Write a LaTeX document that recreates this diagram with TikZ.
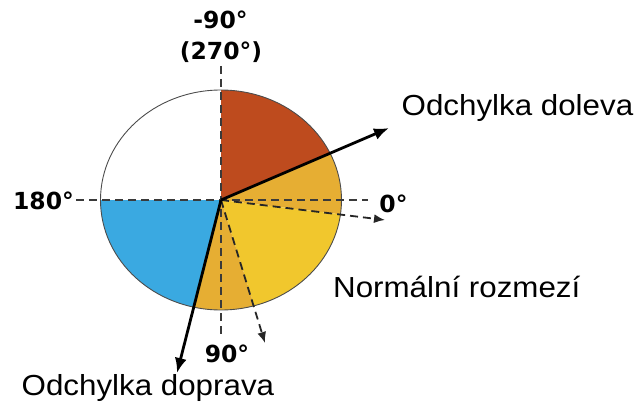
\documentclass[tikz,border=0pt]{standalone}
\usepackage{fontspec}
\setmainfont{Liberation Sans}
\newfontfamily\lblfont[FakeStretch=1.08]{Liberation Sans}
\newfontfamily\degfont{DejaVu Sans}
\usetikzlibrary{arrows.meta}
\definecolor{cred}{HTML}{BE4B1E}
\definecolor{cdark}{HTML}{E6AE33}
\definecolor{cyel}{HTML}{F1C72D}
\definecolor{cblue}{HTML}{3AA9E1}
\definecolor{cdash}{HTML}{3A3A3A}
\tikzset{
  ell/.style={x radius=120.5pt, y radius=110pt},
  guide/.style={cdash, line width=1.8pt, dash pattern=on 8pt off 5pt},
  dasharrow/.style={black!85, line width=1.8pt, dash pattern=on 8pt off 5pt, -{Latex[length=11pt,width=9pt]}},
  bigarrow/.style={black, line width=2.8pt, -{Latex[length=15pt,width=12pt]}},
  deglbl/.style={inner sep=0pt, anchor=base, font=\degfont\bfseries\fontsize{23.5}{28}\selectfont},
  txtlbl/.style={inner sep=0pt, anchor=base west, font=\lblfont\fontsize{29}{34}\selectfont}
}
\begin{document}
\begin{tikzpicture}[x=1pt,y=1pt]
\useasboundingbox (0,0) rectangle (641,-404);
\coordinate (c) at (221,-200);
% sectors
\fill[cred]  (c) -- ++(90:120.5pt and 110pt) arc[ell, start angle=90, end angle=25] -- cycle;
\fill[cdark] (c) -- ++(25:120.5pt and 110pt) arc[ell, start angle=25, end angle=-7.5] -- cycle;
\fill[cyel]  (c) -- ++(-7.5:120.5pt and 110pt) arc[ell, start angle=-7.5, end angle=-74] -- cycle;
\fill[cdark] (c) -- ++(-74:120.5pt and 110pt) arc[ell, start angle=-74, end angle=-103.5] -- cycle;
\fill[cblue] (c) -- ++(-103.5:120.5pt and 110pt) arc[ell, start angle=-103.5, end angle=-180] -- cycle;
\draw[black!70, line width=0.9pt] (c) ellipse[ell];
% guides
\coordinate (hl) at (76,-200);
\coordinate (hr) at (368,-200);
\coordinate (vt) at (221,-66);
\coordinate (vb) at (221,-336);
\draw[guide] (hl) -- (hr);
\draw[guide] (vt) -- (vb);
% arrows
\coordinate (d0) at (385,-220);
\coordinate (d90) at (265,-343);
\coordinate (al) at (389,-128);
\coordinate (ar) at (177,-373);
\draw[dasharrow] (c) -- (d0);
\draw[dasharrow] (c) -- (d90);
\draw[bigarrow] (c) -- (al);
\draw[bigarrow] (c) -- (ar);
% labels
\node[deglbl] (m90) at (220.5,-28.5) {-90°};
\node[deglbl] (p270) at (221,-60) {(270°)};
\node[deglbl] (l180) at (43.5,-209.3) {180°};
\node[deglbl] (l0) at (393.5,-212) {0°};
\node[deglbl] (l90) at (227,-362) {90°};
\node[txtlbl] (doleva) at (401.5,-116) {Odchylka doleva};
\node[txtlbl] (norm) at (333,-297) {Normální rozmezí};
\node[txtlbl] (doprava) at (21.5,-395) {Odchylka doprava};
\end{tikzpicture}
\end{document}
